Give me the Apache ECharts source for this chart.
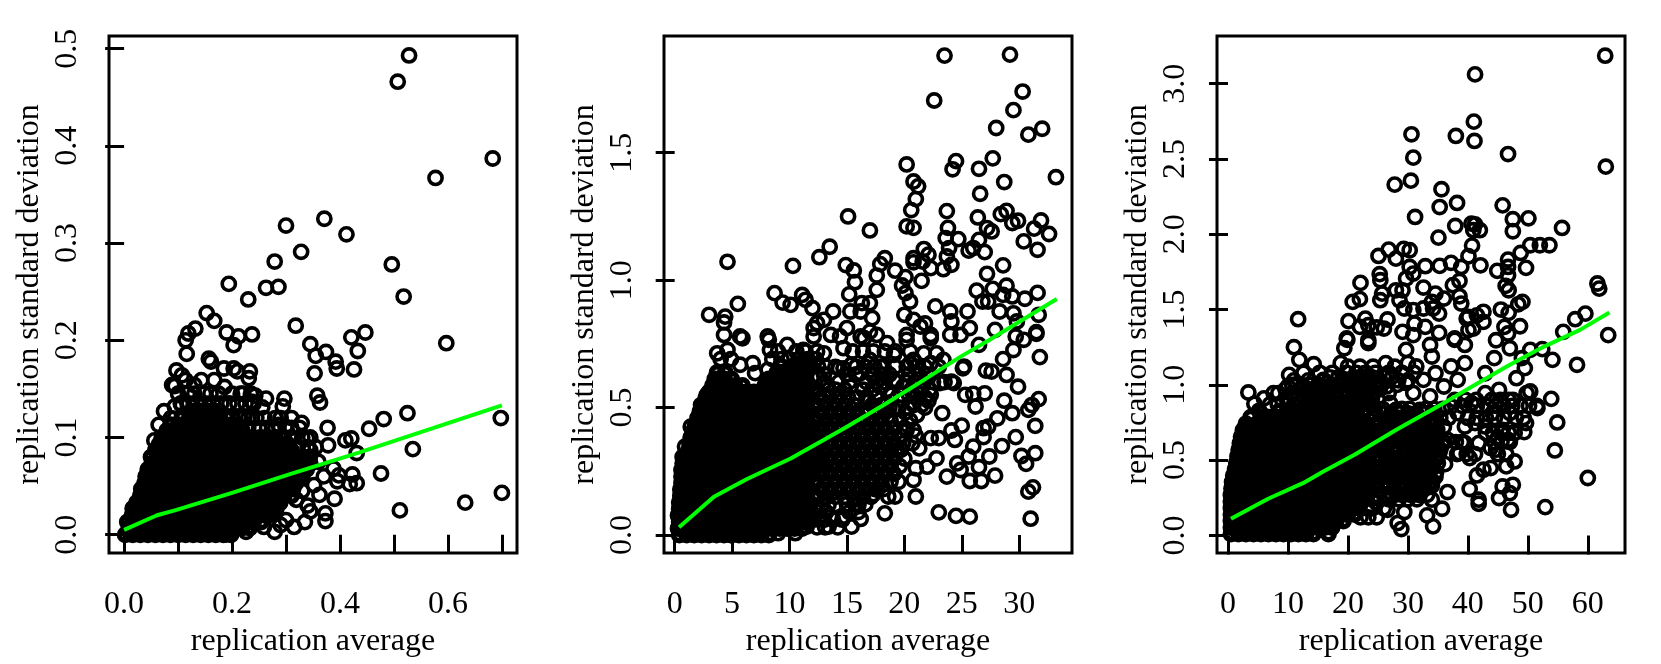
<!DOCTYPE html>
<html><head><meta charset="utf-8">
<style>html,body{margin:0;padding:0;background:#fff}#c{width:1661px;height:664px}</style>
<script src="https://cdn.jsdelivr.net/npm/echarts@6/dist/echarts.min.js"></script>
</head><body><div id="c"></div>
<script>
const xTitle = 'replication average';
const yTitle = 'replication standard deviation';

const ticksX1 = [0,.1,.2,.3,.4,.5,.6,.7], labelsX1 = [0,.2,.4,.6];
const ticksY1 = [0,.1,.2,.3,.4,.5];
const ticksX2 = [0,5,10,15,20,25,30];
const ticksY2 = [0,.5,1,1.5];
const ticksX3 = [0,10,20,30,40,50,60];
const ticksY3 = [0,.5,1,1.5,2,2.5,3];

const trend1 = [[0,.005],[.061,.02],[.094,.025],[.2,.043],[.306,.062],[.432,.084],[.7,.133]];
const trend2 = [[.38,.03],[3.42,.15],[6.3,.22],[10.1,.3],[12.7,.366],[15,.425],[18.2,.51],[21.4,.6],[24.9,.7],[27.4,.765],[33.27,.926]];
const trend3 = [[.5,.11],[6.7,.243],[12.5,.347],[15.9,.425],[21.1,.535],[28,.7],[35.5,.867],[41.2,1],[47,1.133],[52.7,1.254],[58.7,1.365],[63.6,1.48]];

const sparse1 = [[.528,.493],[.507,.466],[.683,.387],[.577,.367],[.371,.325],[.3,.318],[.412,.309],[.328,.291],[.496,.278],[.279,.281],[.194,.258],[.286,.255],[.263,.254],[.518,.245],[.23,.242],[.153,.228],[.167,.22],[.132,.212],[.19,.208],[.119,.207],[.114,.2],[.212,.204],[.237,.206],[.318,.215],[.345,.196],[.421,.203],[.447,.208],[.597,.197],[.116,.186],[.203,.195],[.355,.184],[.374,.188],[.392,.178],[.394,.171],[.433,.189],[.426,.17],[.353,.166],[.157,.181],[.161,.178],[.097,.169],[.107,.164],[.089,.154],[.094,.153],[.185,.171],[.203,.171],[.21,.168],[.233,.168],[.231,.161],[.143,.159],[.167,.159],[.186,.152],[.114,.159],[.13,.154],[.216,.145],[.243,.143],[.263,.14],[.297,.14],[.294,.132],[.358,.143],[.363,.136],[.256,.131],[.236,.137],[.074,.127],[.094,.132],[.107,.133],[.223,.121],[.237,.12],[.064,.113],[.087,.12],[.286,.113],[.299,.111],[.329,.115],[.377,.11],[.525,.125],[.481,.119],[.454,.109],[.698,.12],[.535,.088],[.339,.099],[.41,.097],[.421,.099],[.056,.097],[.378,.092],[.431,.084],[.345,.087],[.476,.063],[.423,.062],[.388,.068],[.398,.061],[.431,.053],[.418,.052],[.395,.055],[.362,.041],[.39,.037],[.511,.025],[.632,.033],[.7,.043],[.373,.022],[.373,.014],[.345,.024],[.335,.013],[.315,.008],[.279,.003],[.319,.036],[.352,.051],[.279,.025],[.259,.008],[.226,.003],[.187,0],[.36,.075],[.37,.06],[.33,.045],[.3,.015],[.29,.01],[.34,.03]];

// each row: y value, then the x values seen at that height in the solid mass
const dense1 = [
[0,.002,.016,.03,.044,.058,.072,.086,.1,.114,.128,.142,.156,.17,.184,.198],
[.007,.009,.023,.037,.051,.065,.079,.093,.107,.121,.135,.149,.163,.177,.191,.205,.219,.233],
[.013,.006,.016,.03,.044,.058,.072,.086,.1,.114,.128,.142,.156,.17,.184,.198,.212,.226,.24,.254],
[.02,.015,.023,.037,.051,.065,.079,.093,.107,.121,.135,.149,.163,.177,.191,.205,.219,.233,.247,.261,.275],
[.027,.016,.03,.044,.058,.072,.086,.1,.114,.128,.142,.156,.17,.184,.198,.212,.226,.24,.254,.268,.282],
[.033,.023,.037,.051,.065,.079,.093,.107,.121,.135,.149,.163,.177,.191,.205,.219,.233,.247,.261,.275,.289],
[.04,.03,.044,.058,.072,.086,.1,.114,.128,.142,.156,.17,.184,.198,.212,.226,.24,.254,.268,.282,.296,.31],
[.047,.032,.047,.061,.075,.089,.103,.117,.131,.145,.159,.173,.187,.201,.215,.229,.243,.257,.271,.285,.299,.313],
[.053,.038,.052,.066,.08,.094,.108,.122,.136,.15,.164,.178,.192,.206,.22,.234,.248,.262,.276,.29,.304,.318],
[.06,.04,.054,.068,.082,.096,.11,.124,.138,.152,.166,.18,.194,.208,.222,.236,.25,.264,.278,.292,.306,.32,.33],
[.067,.044,.058,.072,.086,.1,.114,.128,.142,.156,.17,.184,.198,.212,.226,.24,.254,.268,.282,.296,.31,.324,.338],
[.073,.051,.065,.079,.093,.107,.121,.135,.149,.163,.177,.191,.205,.219,.233,.247,.261,.275,.289,.303,.317,.331,.345],
[.08,.05,.064,.078,.092,.106,.12,.134,.148,.162,.176,.19,.204,.218,.232,.246,.26,.274,.288,.302,.316,.33,.344],
[.087,.058,.072,.086,.1,.114,.128,.142,.156,.17,.184,.198,.212,.226,.24,.254,.268,.282,.296,.31],
[.093,.065,.079,.093,.107,.121,.135,.149,.163,.177,.191,.205,.219,.233,.247,.261,.275,.289,.303],
[.1,.07,.084,.098,.112,.126,.14,.154,.168,.182,.196,.21,.224,.238,.252,.266,.28,.296],
[.107,.079,.093,.107,.121,.135,.149,.163,.177,.191,.205,.219],
[.113,.086,.1,.114,.128,.142,.156,.17,.184,.198,.21],
[.12,.107,.121,.135,.149,.163,.177,.191],
[.127,.128,.142,.156,.17]];

// rings that overlap loosely around the solid mass
const loose1 = [
[.145,.1,.118,.13,.148,.16,.175,.2,.22,.235],
[.135,.105,.12,.135,.15,.165,.18,.195,.21,.225,.24],
[.12,.2,.215,.23,.245,.26,.28,.29,.31],
[.11,.23,.25,.265,.28,.31,.325],
[.1,.31,.33,.345],
[.09,.32,.34,.355]];

const sparse2 = [[23.5,1.881],[29.2,1.885],[22.6,1.705],[30.3,1.74],[29.5,1.667],[28,1.597],[30.8,1.571],[32,1.594],[33.2,1.404],[20.2,1.454],[24.5,1.467],[24.2,1.435],[27.7,1.478],[26.5,1.437],[20.8,1.387],[21.2,1.368],[28.7,1.385],[26.6,1.339],[21,1.318],[20.6,1.275],[23.7,1.271],[26.4,1.246],[28.9,1.272],[28.4,1.259],[20.2,1.211],[20.8,1.205],[23.8,1.205],[15.1,1.25],[17,1.195],[31.9,1.234],[31.3,1.202],[32.6,1.181],[29.9,1.233],[29.4,1.224],[27.2,1.204],[27.6,1.191],[23.6,1.165],[24.7,1.161],[26.5,1.158],[30.4,1.152],[31.6,1.119],[27,1.11],[26,1.126],[25.6,1.116],[23.9,1.126],[23.7,1.093],[13.5,1.131],[12.6,1.09],[4.6,1.072],[10.3,1.056],[14.9,1.059],[18.3,1.086],[17.9,1.063],[21.7,1.122],[22.1,1.1],[20.8,1.086],[21.6,1.073],[20.8,1.07],[22.3,1.047],[23.4,1.043],[24.1,1.06],[19.2,1.037],[15.6,1.038],[15.7,.992],[17.6,1.018],[20.1,1.012],[19.8,.979],[21.5,.997],[28.6,1.058],[27.2,1.025],[28.9,.978],[17.6,.962],[15.2,.944],[20.1,.949],[20.5,.916],[26.3,.959],[27.7,.966],[31.6,.95],[28.6,.942],[29.4,.936],[30.5,.927],[8.7,.949],[11.1,.942],[11.4,.923],[9.4,.912],[10.1,.903],[5.5,.907],[3,.864],[4.4,.857],[4.3,.834],[12,.89],[13.8,.877],[16.3,.91],[17,.91],[15.3,.877],[16.2,.877],[17.2,.851],[20,.864],[22.7,.897],[24,.877],[24.1,.838],[25.5,.877],[26.8,.916],[27.3,.916],[28.3,.877],[31.7,.864],[29.5,.87],[29.8,.838],[27.9,.805],[31.5,.796],[12.4,.831],[13,.844],[12.1,.812],[20.8,.844],[21.8,.83],[21.4,.818],[25.7,.812],[15,.812],[17,.798],[4.3,.785],[5.7,.779],[5.9,.772],[8.1,.779],[8.2,.766],[24,.785],[22.3,.785],[24.9,.785],[20.2,.785],[13.6,.785],[16.2,.779],[29.7,.779],[9.8,.746],[8.3,.726],[3.7,.713],[4.6,.726],[20.2,.766],[22.3,.772],[26.5,.746],[31.5,.789],[29.5,.726],[30.4,.766],[31.8,.698],[28.6,.69],[28.9,.628],[27.1,.645],[27.6,.641],[25.1,.654],[29.9,.582],[24.1,.602],[23.1,.596],[27,.556],[26,.554],[25.3,.55],[28.7,.527],[26.2,.504],[31.7,.533],[31.1,.51],[30.8,.491],[29.4,.478],[23.3,.478],[22.1,.527],[28.1,.458],[25,.429],[24.1,.41],[24.4,.373],[27.3,.425],[26.9,.419],[26.9,.384],[31.4,.428],[26,.347],[29.7,.384],[28.5,.349],[23,.38],[22.3,.38],[21.3,.34],[31.4,.321],[30.2,.31],[30.6,.279],[27.4,.308],[25.6,.308],[22.8,.301],[24.6,.281],[26.5,.266],[23.7,.229],[24.9,.255],[27.9,.233],[25.7,.212],[26.7,.212],[22,.268],[21,.262],[20.8,.216],[21,.151],[31.2,.187],[30.8,.17],[23,.089],[24.5,.075],[25.7,.072],[31,.064],[18.3,.085],[19.2,.151],[18.6,.151],[17.3,.16],[19.5,.209],[16.2,.063],[15.4,.033],[13.4,.033],[12.6,.065],[14.7,.072],[14,.118],[11.5,.033],[10.5,.007],[9,.007],[4.9,0],[16,.118],[13,.596],[13.3,.589],[12.7,.537],[14.7,.654],[14.3,.654],[15.4,.668],[14.7,.733],[25.2,.661],[24.3,.596],[19.7,.334],[21.1,.471],[20.8,.412],[20.2,.412],[19.9,.53],[23.4,.687],[22.8,.713],[20.8,.687],[21.7,.713],[22.3,.674],[5.7,.668],[6.8,.674],[8.1,.648],[7,.635],[.9,.347],[1.4,.425],[2.3,.51],[2.8,.55],[3.7,.635],[11.2,.726],[12.1,.779],[13,.713],[14.4,.779],[16.5,.772],[17.6,.785],[18.5,.753],[17,.687],[17.9,.661],[19.1,.707],[20.5,.674],[16.2,.635],[19.1,.609],[17.9,.582],[15.3,.582],[19.9,.582],[16.8,.53],[19.1,.491],[18.5,.517]];

const dense2 = [
[0,.4,1.05,1.7,2.35,3,3.65,4.3,4.95,5.6,6.25,6.9,7.55,8.2],
[.026,.3,.7,1.35,2,2.65,3.3,3.95,4.6,5.25,5.9,6.55,7.2,7.85,8.5,9.15,9.8,10.45,11.1],
[.051,.4,1.05,1.7,2.35,3,3.65,4.3,4.95,5.6,6.25,6.9,7.55,8.2,8.85,9.5,10.15,10.8,11.45],
[.077,.3,.7,1.35,2,2.65,3.3,3.95,4.6,5.25,5.9,6.55,7.2,7.85,8.5,9.15,9.8,10.45,11.1,11.75],
[.102,.4,1.05,1.7,2.35,3,3.65,4.3,4.95,5.6,6.25,6.9,7.55,8.2,8.85,9.5,10.15,10.8,11.45],
[.128,.4,.7,1.35,2,2.65,3.3,3.95,4.6,5.25,5.9,6.55,7.2,7.85,8.5,9.15,9.8,10.45,11.1,11.75],
[.153,.5,1.05,1.7,2.35,3,3.65,4.3,4.95,5.6,6.25,6.9,7.55,8.2,8.85,9.5,10.15,10.8,11.45,12.1],
[.179,.5,1,1.35,2,2.65,3.3,3.95,4.6,5.25,5.9,6.55,7.2,7.85,8.5,9.15,9.8,10.45,11.1,11.75],
[.204,.6,1.05,1.7,2.35,3,3.65,4.3,4.95,5.6,6.25,6.9,7.55,8.2,8.85,9.5,10.15,10.8,11.45,12.1],
[.23,.6,1.1,1.35,2,2.65,3.3,3.95,4.6,5.25,5.9,6.55,7.2,7.85,8.5,9.15,9.8,10.45,11.1,11.75],
[.255,.6,1.05,1.7,2.35,3,3.65,4.3,4.95,5.6,6.25,6.9,7.55,8.2,8.85,9.5,10.15,10.8,11.45,12.1],
[.281,.7,1.35,2,2.65,3.3,3.95,4.6,5.25,5.9,6.55,7.2,7.85,8.5,9.15,9.8,10.45,11.1,11.75],
[.306,.7,1.05,1.7,2.35,3,3.65,4.3,4.95,5.6,6.25,6.9,7.55,8.2,8.85,9.5,10.15,10.8,11.45,12.1],
[.332,1.2,1.35,2,2.65,3.3,3.95,4.6,5.25,5.9,6.55,7.2,7.85,8.5,9.15,9.8,10.45,11.1,11.75],
[.357,1.3,1.7,2.35,3,3.65,4.3,4.95,5.6,6.25,6.9,7.55,8.2,8.85,9.5,10.15,10.8,11.45,12.1],
[.383,1.4,2,2.65,3.3,3.95,4.6,5.25,5.9,6.55,7.2,7.85,8.5,9.15,9.8,10.45,11.1,11.75],
[.408,1.6,2.35,3,3.65,4.3,4.95,5.6,6.25,6.9,7.55,8.2,8.85,9.5,10.15,10.8,11.45,12.1],
[.434,1.8,2.65,3.3,3.95,4.6,5.25,5.9,6.55,7.2,7.85,8.5,9.15,9.8,10.45,11.1,11.75],
[.459,2,2.35,3,3.65,4.3,4.95,5.6,6.25,6.9,7.55,8.2,8.85,9.5,10.15,10.8,11.45,12.1],
[.485,2.2,2.65,3.3,3.95,4.6,5.25,5.9,6.55,7.2,7.85,8.5,9.15,9.8,10.45,11.1,11.75],
[.51,2.5,3,3.65,4.3,4.95,5.6,6.25,6.9,7.55,8.2,8.85,9.5,10.15,10.8,11.45,12.1],
[.536,2.7,3.3,3.95,4.6,5.25,5.9,6.55,7.2,7.85,8.5,9.15,9.8,10.45,11.1,11.75],
[.561,3,3.65,4.3,4.95,5.6,6.25,6.9,7.55,8.2,8.85,9.5,10.15,10.8,11.45,12.1],
[.587,3.3,3.95,4.6,5.25,5.9,7.85,8.5,9.15,9.8,10.45,11.1,11.75],
[.612,3.5,4.3,4.95,8.2,8.85,9.5,10.15,10.8,11.45],
[.638,3.7,4.4,8.9,9.6,10.2,10.9,11.5],
[.664,9.2,10.4,11.1,11.8],
[.18,12.8,13.5,14.3,15.1,15.9,16.7,17.5],
[.21,12.4,13.2,14,14.8,15.6,16.4,17.2,18],
[.24,12.8,13.5,14.3,15.1,15.9,16.7,17.5,18.3],
[.27,12.4,13.2,14,14.8,15.6,16.4,17.2,18,18.8],
[.3,12.8,13.5,14.3,15.1,15.9,16.7,17.5,18.3,19.1],
[.33,12.4,13.2,14,14.8,15.6,16.4,17.2,18,18.8],
[.36,12.8,13.5,14.3,15.1,15.9,16.7,17.5,18.3,19.1],
[.39,12.4,13.2,14,14.8,15.6,16.4,17.2,18,18.8],
[.42,12.8,13.5,14.3,15.1,15.9,16.7,17.5,18.3],
[.45,12.4,13.2,14,14.8,15.6,16.4,17.2,18],
[.48,12.8,13.5,14.3,15.1,15.9,16.7,17.5]];

// the looser mass to the right of the solid block
const loose2 = [
[.72,9,10.6,11.4,12.4,15.5,16.4,17.3,18.3,19.2,20.5],
[.69,4,4.9,8.5,9.3,10,10.8,11.6,12.3],
[.66,14,15.8,18.2,19.2,20.2,23],
[.6,13,19.3,20.2,22.5,23.5],
[.55,18.9,19.7,20.4,22.3],
[.5,18.7,19.5,20.3,21.8],
[.03,12.4,13.1,14.2],
[.06,12.1,13,13.8,14.6],
[.09,12.4,13.2,15.2,16],
[.12,12.8,13.4,15,15.7,16.6],
[.15,12.4,13.2,14,14.8,15.6,16.4,17.1],
[.18,18.2],
[.21,18.8],
[.24,19.1],
[.27,19.6],
[.3,20],
[.33,19.4],
[.36,19.9,20.7],
[.39,19.6,21],
[.42,19.1,20],
[.45,18.8,19.6,20.5],
[.48,18.3,20.1],
[.51,12.4,13.2,14,14.8,15.6,17.2,18,20.8,21.5],
[.54,13.5,14.3,15.1,15.9,16.7,17.5,21,21.8],
[.57,12.4,13.4,14,14.8,16.4,17.2,18.5,20.6,21.4,22.2],
[.6,14.3,15.2,16.7,17.5,18.3,20.9,21.7],
[.63,13,15,15.8,17.2,18,18.7,20.4,21.3,22],
[.66,11.9,12.5,13.2,16.6,17.4,21,21.8]];

const sparse3 = [[62.9,3.186],[41.2,3.062],[41,2.748],[30.6,2.664],[38,2.653],[41.1,2.62],[30.9,2.509],[46.7,2.533],[63,2.449],[30.5,2.356],[27.8,2.33],[35.6,2.299],[35.3,2.181],[38.2,2.208],[45.8,2.192],[31.2,2.115],[47.5,2.1],[50.1,2.106],[37.9,2.055],[40.6,2.071],[41.2,2.066],[40.9,2.027],[42,2.027],[47.5,2.02],[55.7,2.042],[35.1,1.978],[40.7,1.925],[50.4,1.927],[52,1.927],[53.6,1.927],[48.8,1.876],[26.8,1.898],[29.3,1.903],[30.3,1.894],[25.1,1.856],[28,1.838],[40.1,1.854],[46.7,1.832],[37.2,1.81],[32.9,1.788],[35.3,1.79],[38.9,1.783],[42.1,1.794],[49.7,1.777],[44.9,1.757],[46.7,1.783],[30.3,1.783],[30.9,1.739],[25.3,1.735],[25.4,1.695],[22.1,1.677],[29.7,1.706],[38.6,1.69],[37.5,1.662],[46.7,1.728],[46.3,1.657],[46.8,1.628],[61.6,1.673],[61.9,1.639],[32.6,1.646],[29.1,1.628],[28,1.628],[25.7,1.606],[34.6,1.606],[38.6,1.588],[22,1.569],[20.8,1.551],[25.4,1.562],[28.6,1.562],[36,1.573],[34,1.551],[38.9,1.54],[49.1,1.551],[48.4,1.535],[29.4,1.507],[30.9,1.496],[32.6,1.507],[45.5,1.5],[34.2,1.507],[35.2,1.473],[46.8,1.478],[40.1,1.451],[41.5,1.462],[42.6,1.485],[59.6,1.473],[11.7,1.436],[20.1,1.423],[22.9,1.44],[26.6,1.434],[42.6,1.418],[39.8,1.44],[57.9,1.436],[31.1,1.407],[23.4,1.396],[22,1.385],[24.8,1.381],[26,1.374],[32.9,1.385],[48.7,1.389],[46.1,1.385],[40.9,1.374],[29.1,1.352],[55.9,1.352],[35.2,1.345],[40.1,1.363],[63.4,1.33],[19.8,1.308],[23.4,1.296],[30.9,1.33],[37.8,1.308],[46.7,1.341],[44.7,1.296],[11,1.25],[11.9,1.166],[14.3,1.137],[52.4,1.237],[54.1,1.166],[58.2,1.133],[48.1,1.044],[42.9,1.077],[44.4,1.177],[47,1.243],[50.4,1.232],[49,1.177],[49.5,1.111],[19.9,1.299],[19.4,1.243],[23.4,1.277],[29.7,1.232],[33.7,1.265],[34,1.188],[39.5,1.265],[37.8,1.299],[26.3,1.144],[30,1.144],[31.4,1.122],[34.6,1.077],[37.2,1.122],[39.5,1.144],[10.2,1.066],[10.7,1],[18.8,1.144],[22.8,1.077],[3.4,.949],[4.4,.874],[7.6,.945],[8.4,.945],[53.9,.907],[50.4,.956],[51.6,.845],[54.9,.75],[49.7,.746],[49.4,.686],[54.5,.564],[60,.381],[52.9,.188],[47.8,.491],[46.4,.458],[43.8,.447],[42.6,.436],[41.5,.398],[40.3,.308],[41.8,.237],[41.8,.21],[45.2,.248],[47,.281],[45.8,.325],[47.5,.336],[47.2,.17],[36.6,.288],[36.2,.473],[33.7,.447],[35.7,.177],[33.2,.133],[34.2,.06],[28.9,.042],[28.3,.082],[29.4,.155],[26.6,.17],[24.7,.219],[33.4,.336],[34,.237],[39.5,.613],[38.6,.546],[40.3,.513],[46.7,.635],[45.8,.701],[44.7,.569],[43.8,.58],[41.8,.613],[42.9,.723],[49.8,.945],[47.5,.9],[45.2,.967],[42.9,.945],[40.6,.878],[38.3,.812],[37.2,.856],[47,.812],[44.1,.812],[41.2,.746],[39.5,.723],[36.6,.635],[34.9,.701],[32.6,.746],[31.4,.613],[33.7,.569],[30.9,.436],[32,.834],[30.9,.945],[33.7,.923],[29.7,1.011],[32.6,1.033],[36,.989],[38.3,1.033],[26.8,.945],[24.5,.989],[27.4,1.055],[20.5,1.011],[17.6,.945],[14.2,.923],[12.5,.967],[15.9,1.033],[23.7,.701],[26.3,.768],[28,.834],[29.1,.635],[27.4,.48],[26.3,.325],[24.5,.325],[29.1,.325],[31.4,.281],[27.4,.259],[29.7,.414],[31.4,.502],[25.7,.613]];

const dense3 = [
[.01,.5,1.75,3,4.25,5.5,6.75,8,9.25,10.5,11.75,13,14.25,16.75],
[.053,.5,1.1,2.35,3.6,4.85,6.1,7.35,8.6,9.85,11.1,12.35,13.6,14.85,16.1,17.35],
[.096,.5,1.75,3,4.25,5.5,6.75,8,9.25,10.5,11.75,13,14.25,15.5,16.75,18,19.25],
[.139,.5,1.1,2.35,3.6,4.85,6.1,7.35,8.6,9.85,11.1,12.35,13.6,14.85,16.1,17.35,18.6,19.85,21.1],
[.182,.5,1.75,3,4.25,5.5,6.75,8,9.25,10.5,11.75,13,14.25,15.5,16.75,18,19.25,20.5,21.75],
[.225,.5,1.1,2.35,3.6,4.85,6.1,7.35,8.6,9.85,11.1,12.35,13.6,14.85,16.1,17.35,18.6,19.85,21.1,22.35],
[.268,.5,1.75,3,4.25,5.5,6.75,8,9.25,10.5,11.75,13,14.25,15.5,16.75,18,19.25,20.5,21.75,23],
[.311,.6,1.1,2.35,3.6,4.85,6.1,7.35,8.6,9.85,11.1,12.35,13.6,14.85,16.1,17.35,18.6,19.85,21.1,22.35,23.6],
[.354,.7,1.75,3,4.25,5.5,6.75,8,9.25,10.5,11.75,13,14.25,15.5,16.75,18,19.25,20.5,21.75,23],
[.397,.9,2.35,3.6,4.85,6.1,7.35,8.6,9.85,11.1,12.35,13.6,14.85,16.1,17.35,18.6,19.85,21.1,22.35,23.6],
[.44,1.2,1.75,3,4.25,5.5,6.75,8,9.25,10.5,11.75,13,14.25,15.5,16.75,18,19.25,20.5,21.75,23],
[.483,1.4,2.35,3.6,4.85,6.1,7.35,8.6,9.85,11.1,12.35,13.6,14.85,16.1,17.35,18.6,19.85,21.1,22.35,23.6],
[.526,1.6,3,4.25,5.5,6.75,8,9.25,10.5,11.75,13,14.25,15.5,16.75,18,19.25,20.5,21.75,23],
[.569,1.8,2.35,3.6,4.85,6.1,7.35,8.6,9.85,11.1,12.35,13.6,14.85,16.1,17.35,18.6,19.85,21.1,22.35,23.6],
[.612,2,3,4.25,5.5,6.75,8,9.25,10.5,11.75,13,14.25,15.5,16.75,18,19.25,20.5,21.75,23],
[.655,2.2,3.6,4.85,6.1,7.35,8.6,9.85,11.1,12.35,13.6,14.85,16.1,17.35,18.6,19.85,21.1,22.35,23.6],
[.698,2.5,4.25,5.5,6.75,8,9.25,10.5,11.75,13,14.25,15.5,16.75,18,19.25,20.5,21.75,23],
[.741,3,4.85,6.1,7.35,8.6,9.85,11.1,12.35,13.6,14.85,16.1,17.35,18.6,19.85,21.1,22.35],
[.784,3.8,5.5,6.75,8,9.25,10.5,11.75,13,14.25,15.5,16.75,18,19.25,20.5,21.75],
[.827,5.2,8.6,9.85,11.1,12.35,13.6,14.85,16.1,17.35,18.6,19.85,21.1]];

const loose3 = [
[1.12,20,22,24.2,27.8],
[1.08,12.6,15.3,17.4,19.8,21.4,23,24.6,26.8,29,31],
[1.03,11,13.4,16,19.5,20.8,22.2,23.6,25.2,28.4,30],
[.99,10,12.6,15.6,17,18.6,20.2,22,23.6,25,26.5],
[.91,6,9.8,11.2,12.6,14.6,15.5,17,18.2,19.6,21,22.4,24],
[.97,9.6,12,14,15.4,16.8,18.2,19.7,21,22.5,24,25.3],
[.87,7,8.3,10,11,14,15.6,17,18.4,19.8,21.2,22.6,24],
[.81,24.4,25.8,27.2,28.6,30,31.4,32.8,34.2],
[.75,25,26.4,27.8,29.2,30.6,32,33.4,34.8],
[.69,24.4,25.8,27.2,28.6,30,31.4,32.8,34.2],
[.63,25,26.4,27.8,29.2,30.6,32,33.4,34.8],
[.57,24.4,25.8,27.2,28.6,30,31.4,32.8,34.2,35.4],
[.51,25,26.4,27.8,29.2,30.6,32,33.4,34.8],
[.45,24.4,25.8,27.2,28.6,30,31.4,32.8,34.2],
[.39,25,26.4,27.8,29.2,30.5,32,33.4,34.6],
[.33,24.2,25.6,27,28.4,29.8,31.2,32.6,34],
[.27,24.6,26,27.3,29,30.4,31.8,33.2],
[.12,22.1,23.4,24.8],
[.18,23.2,24.1,26],
[.24,25.3,26.8,28.5,30,31.5],
[.3,25,27.8,29.3,30.6,32],
[.36,24.8,26.2,27.6,28.9,30.3,31.7,33,34.1],
[.42,25.2,26.6,28,29.4,30.7,32.1,33.5,34.7],
[.48,24.8,26.2,28.9,30.3,32.6,34,35],
[.54,25.2,26.6,28,29.4,30.7,32.1,35.2],
[.6,24.9,26.2,27.7,30.3,31.7,33,34.4,35.7],
[.66,25.5,26.8,28.2,29.5,31,32.4,33.8,35.1],
[.72,25,26.4,27.7,29,30.4,31.7,33,36],
[.78,24.6,27,28.5,29.9,31.3,34,35.4,36.8],
[.84,23.2,24.5,25.8,29,30.3,33,34.4,35.8],
[.88,12.2,13.5,15,16.4,17.8,19.2,20.6,22,27],
[.94,10.6,11.8,13.2,16,18.8,20,21.4,22.8,24],
[1,11.4,13.8,15,17.4,19,21.8,23.2,25.6,28.2],
[1.05,17,18.4,21,22.4,24,26],
[.86,39,41.5,43.2,44.6,46,47.4,48.8,50.2,51.5],
[.9,37.8,39.6,41.4,44,45.4,46.8],
[.78,40,41.5,43,44.5,46,48,49.3],
[.68,43,44.2,45.6,46.8,47.8],
[.62,36,38,39,44.4,45.6,47],
[.54,38.2,39.8,41.2,45,46.4]];

function flat(rows){ const out=[]; for(const r of rows) for(let i=1;i<r.length;i++) out.push([r[i],r[0]]); return out; }

const panels = [
 {left:109, xMin:-.028,xMax:.728, yMin:-.0188,yMax:.513, xT:ticksX1,xL:labelsX1,yT:ticksY1,rings:sparse1.concat(flat(loose1)),mass:flat(dense1),line:trend1,fx:1},
 {left:664, xMin:-.93,xMax:34.6, yMin:-.0706,yMax:1.958, xT:ticksX2,xL:ticksX2,yT:ticksY2,rings:sparse2.concat(flat(loose2)),mass:flat(dense2),line:trend2,fx:0},
 {left:1217,xMin:-1.83,xMax:66.2, yMin:-.117,yMax:3.317, xT:ticksX3,xL:ticksX3,yT:ticksY3,rings:sparse3.concat(flat(loose3)),mass:flat(dense3),line:trend3,fx:0}
];
const font = 'Liberation Serif', fs = 32;
const tick = {show:true,length:19,lineStyle:{color:'#000',width:3}};
const option = {animation:false,backgroundColor:'#fff',grid:[],xAxis:[],yAxis:[],series:[]};
panels.forEach((p,i)=>{
  option.grid.push({left:p.left,top:36,width:408,height:517,show:true,borderColor:'#000',borderWidth:3,backgroundColor:'#fff'});
  option.xAxis.push({type:'value',gridIndex:i,min:p.xMin,max:p.xMax,splitLine:{show:false},axisLine:{show:false},
    axisTick:Object.assign({customValues:p.xT},tick),
    axisLabel:{customValues:p.xL,margin:36,color:'#000',fontFamily:font,fontSize:fs,formatter:v=>p.fx?v.toFixed(1):String(v)},
    name:xTitle,nameLocation:'middle',nameGap:67,nameTextStyle:{color:'#000',fontFamily:font,fontSize:fs}});
  option.yAxis.push({type:'value',gridIndex:i,min:p.yMin,max:p.yMax,splitLine:{show:false},axisLine:{show:false},
    axisTick:Object.assign({customValues:p.yT},tick),
    axisLabel:{customValues:p.yT,rotate:90,margin:25,color:'#000',fontFamily:font,fontSize:fs,formatter:v=>v.toFixed(1)},
    name:yTitle,nameLocation:'middle',nameGap:63,nameTextStyle:{color:'#000',fontFamily:font,fontSize:fs}});
  option.series.push({type:'scatter',xAxisIndex:i,yAxisIndex:i,data:p.mass,symbol:'circle',symbolSize:11.5,silent:true,progressive:0,
    itemStyle:{color:'rgba(0,0,0,0)',borderColor:'#000',borderWidth:5.5,opacity:1},z:2});
  option.series.push({type:'scatter',xAxisIndex:i,yAxisIndex:i,data:p.rings,symbol:'circle',symbolSize:13.2,silent:true,progressive:0,
    itemStyle:{color:'rgba(0,0,0,0)',borderColor:'#000',borderWidth:3.6,opacity:1},z:2});
  option.series.push({type:'line',xAxisIndex:i,yAxisIndex:i,data:p.line,showSymbol:false,symbol:'none',silent:true,
    lineStyle:{color:'#00ff00',width:4,cap:'butt',join:'round'},z:3});
});
echarts.init(document.getElementById('c'),null,{renderer:'canvas'}).setOption(option);
</script></body></html>
